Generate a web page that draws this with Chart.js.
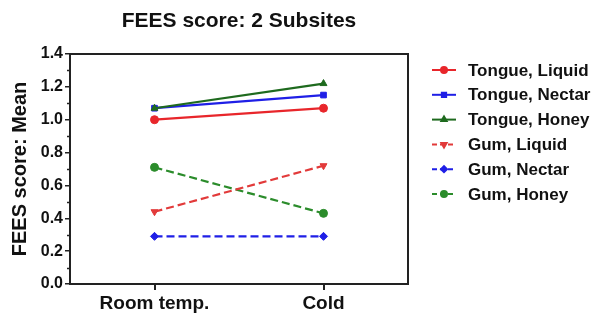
<!DOCTYPE html>
<html><head><meta charset="utf-8">
<script src="https://cdn.jsdelivr.net/npm/chart.js@4/dist/chart.umd.min.js"></script>
<style>html,body{margin:0;padding:0;background:#fff}#wrap{width:604px;height:320px}</style>
</head><body><div id="wrap"><canvas id="c" width="604" height="320"></canvas></div>
<script>
const categories = ["Room temp.", "Cold"];
const tongueLiquid = [1.00, 1.07];
const tongueNectar = [1.07, 1.15];
const tongueHoney = [1.07, 1.22];
const gumLiquid = [0.44, 0.72];
const gumNectar = [0.29, 0.29];
const gumHoney = [0.71, 0.43];
const yTicks = [0.0, 0.2, 0.4, 0.6, 0.8, 1.0, 1.2, 1.4];
const minorTicks = [0.1, 0.3, 0.5, 0.7, 0.9, 1.1, 1.3];
const chartTitle = "FEES score: 2 Subsites";
const yTitle = "FEES score: Mean";

const FONT = "'Liberation Sans', Arial, Helvetica, sans-serif";
const RED = '#e8262b', BLUE = '#1f1fe6', DGREEN = '#1e6a1e', GREEN = '#2b8c2b', GRED = '#e23a3a';

function ds(label, data, color, style, dashed, rot, order) {
  return {label, data, borderColor: color, backgroundColor: color, pointStyle: style,
    pointRotation: rot || 0, pointRadius: 4, pointBorderWidth: 1,
    borderWidth: 2.2, borderDash: dashed ? [8, 4] : [], fill: false, tension: 0, order};
}

const datasets = [
  ds("Tongue, Liquid", tongueLiquid, RED, 'circle', false, 0, 3),
  ds("Tongue, Nectar", tongueNectar, BLUE, 'rect', false, 0, 2),
  ds("Tongue, Honey", tongueHoney, DGREEN, 'triangle', false, 0, 1),
  ds("Gum, Liquid", gumLiquid, GRED, 'triangle', true, 180, 4),
  ds("Gum, Nectar", gumNectar, BLUE, 'rectRot', true, 0, 5),
  ds("Gum, Honey", gumHoney, GREEN, 'circle', true, 0, 6)
];

const extras = {
  id: 'extras',
  afterDraw(chart) {
    const ctx = chart.ctx, a = chart.chartArea, y = chart.scales.y;
    ctx.save();
    ctx.strokeStyle = '#222'; ctx.lineWidth = 2;
    ctx.beginPath();
    ctx.moveTo(a.left, a.top); ctx.lineTo(a.right, a.top); ctx.lineTo(a.right, a.bottom);
    ctx.stroke();
    ctx.lineWidth = 1.5;
    minorTicks.forEach(v => {
      const py = Math.round(y.getPixelForValue(v)) + 0.5;
      ctx.beginPath(); ctx.moveTo(a.left - 3, py); ctx.lineTo(a.left, py); ctx.stroke();
    });
    ctx.fillStyle = '#111';
    ctx.font = 'bold 21px ' + FONT;
    ctx.textAlign = 'center'; ctx.textBaseline = 'middle';
    ctx.fillText(chartTitle, (a.left + a.right) / 2, 21);
    const x0 = 432, x1 = 456, tx = 468;
    ctx.font = 'bold 17px ' + FONT;
    ctx.textAlign = 'left';
    chart.data.datasets.forEach((d, i) => {
      const ly = 70 + i * 24.8;
      ctx.strokeStyle = d.borderColor; ctx.fillStyle = d.borderColor;
      ctx.lineWidth = 2;
      ctx.setLineDash(d.borderDash.length ? [5, 3] : []);
      ctx.beginPath(); ctx.moveTo(x0, ly); ctx.lineTo(x1, ly); ctx.stroke();
      ctx.setLineDash([]);
      Chart.helpers.drawPoint(ctx, {pointStyle: d.pointStyle, radius: 3, rotation: d.pointRotation, borderWidth: 1}, (x0 + x1) / 2, ly);
      ctx.fillStyle = '#111';
      ctx.fillText(d.label, tx, ly + 1);
    });
    ctx.restore();
  }
};

new Chart(document.getElementById('c'), {
  type: 'line',
  data: {labels: categories, datasets},
  options: {
    responsive: false, animation: false,
    layout: {padding: {top: 54, right: 196, left: 8, bottom: 0}},
    plugins: {legend: {display: false}, title: {display: false}, tooltip: {enabled: false}},
    scales: {
      x: {
        offset: true,
        grid: {display: true, drawOnChartArea: false, tickLength: 6, color: '#222', lineWidth: 2, offset: false},
        border: {color: '#222', width: 2},
        ticks: {color: '#111', font: {family: FONT, size: 19, weight: 'bold'}, padding: 2},
        afterFit(s) { s.height = 36; }
      },
      y: {
        min: 0, max: 1.4,
        afterBuildTicks(s) { s.ticks = yTicks.map(v => ({value: v})); },
        grid: {display: true, drawOnChartArea: false, tickLength: 5, color: '#222', lineWidth: 1.5},
        border: {color: '#222', width: 2},
        ticks: {color: '#111', font: {family: FONT, size: 16, weight: 'bold'}, padding: 2,
          callback: v => Number(v).toFixed(1)},
        title: {display: true, text: yTitle, color: '#111', font: {family: FONT, size: 20, weight: 'bold'}, padding: {top: 0, bottom: 4}},
        afterFit(s) { s.width = 62; }
      }
    }
  },
  plugins: [extras]
});
</script>
</body></html>
